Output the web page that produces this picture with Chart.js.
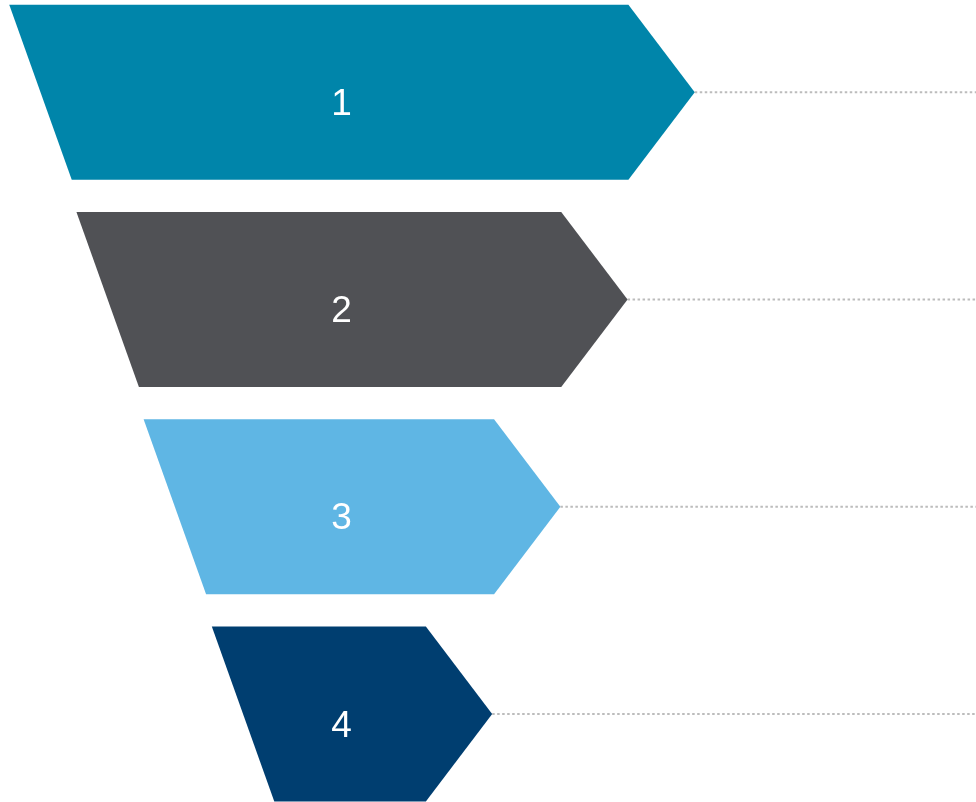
<!DOCTYPE html>
<html>
<head>
<meta charset="utf-8">
<script src="https://cdn.jsdelivr.net/npm/chart.js@4.4.1/dist/chart.umd.min.js"></script>
<style>
    html, body { margin: 0; padding: 0; background: #ffffff; }
    #funil-container { position: relative; width: 976px; height: 802px; }
</style>
</head>
<body>
<div id="funil-container"><canvas id="funil-canvas"></canvas></div>
<script>
// #region Dados do Funil

var etapas = ["1", "2", "3", "4"];
var larguraEtapas = [100, 80.4, 60.8, 40.9];
var coresEtapas = ["#0085aa", "#505155", "#5fb6e4", "#003e70"];

// #endregion Dados do Funil

// #region Plugin das Setas

// desenha cada barra como trapézio com ponta de seta, a linha pontilhada até a borda e o número da etapa
var pluginSetas = {
    id: "setasFunil",
    beforeDatasetDraw: function (chart, args) {
        var ctx = chart.ctx;
        var area = chart.chartArea;
        var meta = args.meta;

        meta.data.forEach(function (barra, i) {
            var p = barra.getProps(["x", "y", "base", "height"], true);
            var esquerda = Math.min(p.base, p.x);
            var direita = Math.max(p.base, p.x);
            var topo = p.y - p.height / 2;
            var fundo = p.y + p.height / 2;
            var inclinacao = p.height * 0.357;
            var ponta = p.height * 0.379;

            // linha pontilhada
            ctx.save();
            ctx.strokeStyle = "#bcbcbc";
            ctx.lineWidth = 2;
            ctx.setLineDash([2.5, 2.5]);
            ctx.beginPath();
            ctx.moveTo(direita, p.y);
            ctx.lineTo(area.right, p.y);
            ctx.stroke();
            ctx.restore();

            // forma da etapa
            ctx.save();
            ctx.fillStyle = coresEtapas[i];
            ctx.beginPath();
            ctx.moveTo(esquerda, topo);
            ctx.lineTo(direita - ponta, topo);
            ctx.lineTo(direita, p.y);
            ctx.lineTo(direita - ponta, fundo);
            ctx.lineTo(esquerda + inclinacao, fundo);
            ctx.closePath();
            ctx.fill();

            // número da etapa
            ctx.fillStyle = "#ffffff";
            ctx.font = "37px 'Liberation Sans', Arial, sans-serif";
            ctx.textAlign = "center";
            ctx.textBaseline = "alphabetic";
            ctx.fillText(etapas[i], (esquerda + direita) / 2 - 10.5, p.y + 22.5);
            ctx.restore();
        });

        return false;
    }
};

// #endregion Plugin das Setas

// #region Funções de Inicialização

function loadGraficoFunil() {
    var dados = etapas.map(function (etapa, i) {
        return { x: [-larguraEtapas[i] / 2, larguraEtapas[i] / 2], y: i };
    });

    new Chart(document.getElementById("funil-canvas"), {
        type: "bar",
        data: {
            datasets: [{
                data: dados,
                backgroundColor: coresEtapas,
                barThickness: 175
            }]
        },
        options: {
            indexAxis: "y",
            responsive: true,
            maintainAspectRatio: false,
            animation: false,
            layout: { padding: 0 },
            plugins: {
                legend: { display: false },
                tooltip: { enabled: false }
            },
            scales: {
                x: { type: "linear", display: false, offset: false, min: -51.35, max: 91.03 },
                y: { type: "linear", display: false, offset: false, reverse: true, min: -0.445, max: 3.424 }
            }
        },
        plugins: [pluginSetas]
    });
}

// #endregion Funções de Inicialização

loadGraficoFunil();
</script>
</body>
</html>
